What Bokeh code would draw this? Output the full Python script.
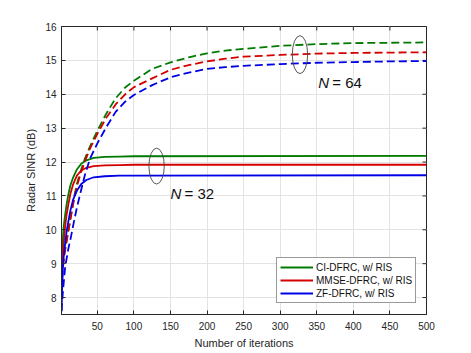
from bokeh.plotting import figure
from bokeh.models import Range1d, FixedTicker, Legend, LegendItem, ColumnDataSource
from bokeh.core.properties import value
from bokeh.embed import file_html
from bokeh.resources import INLINE

# ---- data ----
it_dash = [1, 3, 6, 10, 14, 18, 22, 27, 33, 40, 50, 62, 75, 88, 100, 125, 150, 175, 200, 225, 250, 300, 350, 400, 450, 500]
ci_64 = [8.9, 9.1, 9.45, 9.95, 10.45, 10.95, 11.35, 11.72, 12.1, 12.46, 12.92, 13.42, 13.88, 14.2, 14.4, 14.75, 14.94, 15.09, 15.21, 15.29, 15.34, 15.43, 15.48, 15.51, 15.52, 15.53]
mmse_64 = [8.2, 8.9, 9.4, 9.9, 10.4, 10.88, 11.28, 11.65, 12.02, 12.4, 12.83, 13.3, 13.7, 14.0, 14.21, 14.47, 14.72, 14.86, 14.97, 15.05, 15.11, 15.16, 15.2, 15.22, 15.23, 15.24]
zf_64 = [7.6, 8.2, 8.9, 9.4, 9.8, 10.24, 10.65, 11.1, 11.62, 12.1, 12.55, 13.02, 13.48, 13.78, 13.98, 14.27, 14.5, 14.64, 14.75, 14.8, 14.84, 14.89, 14.93, 14.95, 14.97, 14.98]

it_solid = [1, 2, 3, 4, 6, 8, 10, 13, 17, 22, 28, 35, 45, 60, 80, 100, 500]
ci_32 = [8.9, 9.4, 9.8, 10.1, 10.45, 10.75, 11.0, 11.3, 11.55, 11.78, 11.95, 12.05, 12.12, 12.15, 12.16, 12.17, 12.18]
mmse_32 = [8.2, 8.9, 9.3, 9.6, 10.1, 10.45, 10.7, 11.05, 11.35, 11.6, 11.75, 11.83, 11.88, 11.9, 11.91, 11.92, 11.92]
zf_32 = [7.6, 8.4, 8.9, 9.2, 9.6, 9.95, 10.2, 10.55, 10.9, 11.15, 11.35, 11.47, 11.55, 11.58, 11.6, 11.6, 11.61]

series_names = ["CI-DFRC, w/ RIS", "MMSE-DFRC, w/ RIS", "ZF-DFRC, w/ RIS"]
colors = ["#007a00", "#d40000", "#0000e6"]

x_ticks = [50, 100, 150, 200, 250, 300, 350, 400, 450, 500]
y_ticks = [8, 9, 10, 11, 12, 13, 14, 15, 16]

ellipse_x = [131, 327]
ellipse_y = [11.88, 15.17]
ellipse_w = [21, 21]
ellipse_h = [1.06, 1.12]

label_x = [150, 352]
label_y = [11.08, 14.34]
label_n = ["32", "64"]

FONT = "Liberation Sans"
AXC = "#262626"
X0, X1, Y0, Y1 = 1, 500, 7.5, 16
FW, FH = 365, 288

p = figure(frame_width=FW, frame_height=FH, output_backend="svg", toolbar_location=None,
           x_range=Range1d(X0, X1), y_range=Range1d(Y0, Y1),
           min_border_left=61, min_border_top=26, min_border_right=37, min_border_bottom=31)
p.background_fill_color = "white"
p.border_fill_color = "white"
p.outline_line_color = AXC
p.outline_line_width = 1

for ax in (p.xaxis[0], p.yaxis[0]):
    ax.axis_line_color = AXC
    ax.major_tick_line_color = AXC
    ax.major_tick_in = 4
    ax.major_tick_out = 0
    ax.minor_tick_line_color = None
    ax.major_label_text_font = FONT
    ax.major_label_text_font_size = "10px"
    ax.major_label_text_color = AXC
    ax.axis_label_text_font = FONT
    ax.axis_label_text_font_size = "11px"
    ax.axis_label_text_font_style = "normal"
    ax.axis_label_text_color = AXC
p.xaxis[0].major_label_standoff = 7
p.xaxis[0].axis_label_standoff = 4
p.yaxis[0].major_label_standoff = 5
p.yaxis[0].axis_label_standoff = 5
p.xaxis[0].ticker = FixedTicker(ticks=x_ticks)
p.yaxis[0].ticker = FixedTicker(ticks=y_ticks)
p.xaxis[0].axis_label = "Number of iterations"
p.yaxis[0].axis_label = "Radar SINR (dB)"

# tick marks on the top and right edges of the box (4 px long)
tlx = (X1 - X0) * 4 / FW
tly = (Y1 - Y0) * 4 / FH
p.segment(x0=x_ticks, y0=[Y1] * len(x_ticks), x1=x_ticks, y1=[Y1 - tly] * len(x_ticks),
          line_color=AXC, line_width=1)
p.segment(x0=[X1] * len(y_ticks), y0=y_ticks, x1=[X1 - tlx] * len(y_ticks), y1=y_ticks,
          line_color=AXC, line_width=1)

p.xgrid.ticker = FixedTicker(ticks=x_ticks)
p.ygrid.ticker = FixedTicker(ticks=y_ticks)
p.grid.grid_line_color = "#e3e3e3"
p.grid.grid_line_width = 1

items = []
for name, col, ys32, ys64 in zip(series_names, colors, [ci_32, mmse_32, zf_32], [ci_64, mmse_64, zf_64]):
    r = p.line(it_solid, ys32, line_color=col, line_width=1.8)
    p.line(it_dash, ys64, line_color=col, line_width=1.8, line_dash="8 4")
    items.append(LegendItem(label=name, renderers=[r]))

p.ellipse(x=ellipse_x, y=ellipse_y, width=ellipse_w, height=ellipse_h,
          fill_color=None, line_color="#444444", line_width=0.9)

src = ColumnDataSource(dict(x=label_x, y=label_y, n=["N"] * 2, rest=["= " + s for s in label_n]))
p.text(x="x", y="y", text="n", source=src, text_font=value(FONT), text_font_size="15px",
       text_font_style="italic", text_baseline="middle", text_align="left", text_color="#111111")
p.text(x="x", y="y", text="rest", source=src, text_font=value(FONT), text_font_size="15px",
       text_baseline="middle", text_align="left", text_color="#111111", x_offset=14)

legend = Legend(items=items, location=(215, 11))
legend.label_text_font = FONT
legend.label_text_font_size = "10px"
legend.label_text_color = "#111111"
legend.glyph_width = 33
legend.glyph_height = 12
legend.label_standoff = 3
legend.spacing = 1
legend.padding = 3
legend.margin = 0
legend.label_height = 12
legend.border_line_color = "#333333"
legend.border_line_width = 1
legend.background_fill_alpha = 1
p.add_layout(legend, "center")

open("out.html", "w").write(file_html(p, INLINE))
